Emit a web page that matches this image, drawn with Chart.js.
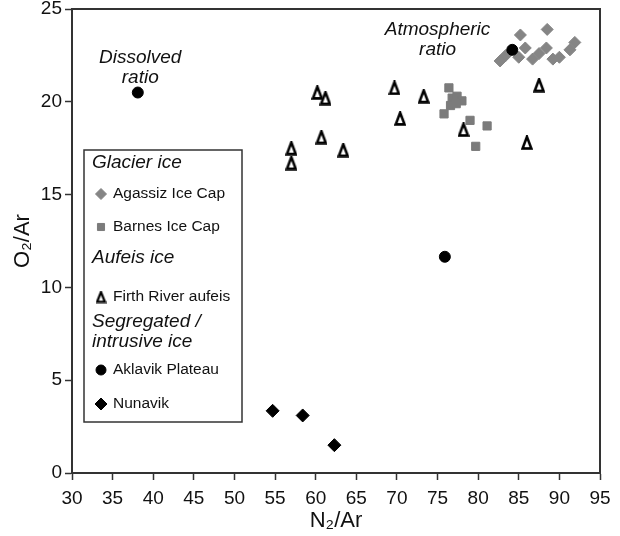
<!DOCTYPE html>
<html>
<head>
<meta charset="utf-8">
<script src="https://cdn.jsdelivr.net/npm/chart.js@4.4.0/dist/chart.umd.min.js"></script>
<style>
  html, body { margin: 0; padding: 0; background: #fff; }
  #wrap { width: 620px; height: 536px; }
</style>
</head>
<body>
<div id="wrap"><canvas id="o2chart" width="620" height="536"></canvas></div>
<script>
// valores (N2/Ar no x, O2/Ar no y)
const agassizN = [82.7, 83.4, 85.2, 85.0, 85.8, 86.7, 87.5, 88.5, 88.4, 89.2, 90.0, 91.3, 91.9];
const agassizO = [22.2, 22.5, 23.6, 22.4, 22.9, 22.3, 22.6, 23.9, 22.9, 22.3, 22.4, 22.8, 23.2];

const barnesN = [76.4, 76.8, 77.4, 78.0, 76.6, 77.3, 75.8, 79.0, 81.1, 79.7];
const barnesO = [20.75, 20.2, 20.3, 20.05, 19.8, 19.9, 19.35, 19.0, 18.7, 17.6];

const firthN = [60.2, 61.2, 60.7, 57.0, 57.0, 63.4, 69.7, 70.4, 73.3, 78.2, 87.5, 86.0];
const firthO = [20.5, 20.2, 18.1, 17.5, 16.7, 17.4, 20.75, 19.1, 20.3, 18.5, 20.9, 17.8];

const aklavikN = [38.1, 84.2, 75.9];
const aklavikO = [20.5, 22.8, 11.65];

const nunavikN = [54.7, 58.4, 62.3];
const nunavikO = [3.35, 3.1, 1.5];

const xTickValues = [30, 35, 40, 45, 50, 55, 60, 65, 70, 75, 80, 85, 90, 95];
const yTickValues = [0, 5, 10, 15, 20, 25];

const seriesNames = ['Agassiz Ice Cap', 'Barnes Ice Cap', 'Firth River aufeis', 'Aklavik Plateau', 'Nunavik'];
const groupNames = ['Glacier ice', 'Aufeis ice', 'Segregated /', 'intrusive ice'];
const noteLines = [['Dissolved', 'ratio'], ['Atmospheric', 'ratio']];
const noteAnchorN = [38.4, 75.0];
const noteAnchorO = [22.4, 23.9];

const FONT = "'Liberation Sans', Arial, Helvetica, sans-serif";
const INK = '#111';

function pairs(xs, ys) {
    return xs.map((x, i) => ({ x: x, y: ys[i] }));
}

// triângulo vazado (contorno preto grosso)
function makeTriangle(w, h, lw) {
    const c = document.createElement('canvas');
    c.width = w;
    c.height = h;
    const g = c.getContext('2d');
    g.beginPath();
    g.moveTo(w / 2, 1.6);
    g.lineTo(w - 1.6, h - 1.6);
    g.lineTo(1.6, h - 1.6);
    g.closePath();
    g.fillStyle = '#fff';
    g.fill();
    g.lineWidth = lw;
    g.strokeStyle = '#000';
    g.lineJoin = 'miter';
    g.stroke();
    return c;
}
const triMark = makeTriangle(12, 15, 2.6);
const triLegend = makeTriangle(11, 13, 2.3);

// moldura de cima e da direita
const framePlugin = {
    id: 'frame',
    beforeDatasetsDraw(chart) {
        const { ctx, chartArea: a } = chart;
        ctx.save();
        ctx.strokeStyle = '#333';
        ctx.lineWidth = 2;
        ctx.beginPath();
        ctx.moveTo(a.left, a.top);
        ctx.lineTo(a.right, a.top);
        ctx.lineTo(a.right, a.bottom);
        ctx.stroke();
        ctx.restore();
    }
};

// textos "Dissolved ratio" / "Atmospheric ratio"
const notesPlugin = {
    id: 'notes',
    afterDatasetsDraw(chart) {
        const { ctx, scales } = chart;
        ctx.save();
        ctx.fillStyle = INK;
        ctx.font = 'italic 19px ' + FONT;
        ctx.textAlign = 'center';
        ctx.textBaseline = 'middle';
        noteLines.forEach((lines, i) => {
            const px = scales.x.getPixelForValue(noteAnchorN[i]);
            const py = scales.y.getPixelForValue(noteAnchorO[i]);
            lines.forEach((t, j) => ctx.fillText(t, px, py + j * 20));
        });
        ctx.restore();
    }
};

// legenda agrupada dentro da área do gráfico
const legendPlugin = {
    id: 'groupLegend',
    afterDraw(chart) {
        const { ctx, chartArea: a } = chart;
        const bx = a.left + 12, by = a.top + 141, bw = 158, bh = 272;
        ctx.save();
        ctx.fillStyle = '#fff';
        ctx.fillRect(bx, by, bw, bh);
        ctx.strokeStyle = '#333';
        ctx.lineWidth = 1.5;
        ctx.strokeRect(bx, by, bw, bh);

        ctx.textBaseline = 'middle';
        ctx.textAlign = 'left';
        ctx.fillStyle = INK;
        ctx.font = 'italic 19px ' + FONT;
        const heads = [13, 108, 172, 192];
        groupNames.forEach((t, i) => ctx.fillText(t, bx + 8, by + heads[i]));

        const rows = [44, 77, 147, 220, 254];
        const ds = chart.data.datasets;
        ctx.font = '15.5px ' + FONT;
        seriesNames.forEach((t, i) => {
            const d = ds[i];
            const mx = bx + 17, my = by + rows[i];
            ctx.fillStyle = d.backgroundColor;
            ctx.strokeStyle = d.borderColor;
            ctx.lineWidth = 1;
            const style = i === 2 ? triLegend : d.pointStyle;
            Chart.helpers.drawPoint(ctx, {
                pointStyle: style,
                radius: d.legendRadius,
                rotation: 0,
                borderWidth: 1
            }, mx, my);
            ctx.fillStyle = INK;
            ctx.fillText(t, bx + 29, my);
        });
        ctx.restore();
    }
};

const ctx = document.getElementById('o2chart');

new Chart(ctx, {
    type: 'scatter',
    data: {
        datasets: [
            {
                label: seriesNames[0],
                data: pairs(agassizN, agassizO),
                pointStyle: 'rectRot',
                pointRadius: 6,
                legendRadius: 5.5,
                backgroundColor: '#858585',
                borderColor: '#858585',
                borderWidth: 1,
                order: 3
            },
            {
                label: seriesNames[1],
                data: pairs(barnesN, barnesO),
                pointStyle: 'rect',
                pointRadius: 5.8,
                legendRadius: 5,
                backgroundColor: '#7b7b7b',
                borderColor: '#7b7b7b',
                borderWidth: 1,
                order: 2
            },
            {
                label: seriesNames[2],
                data: pairs(firthN, firthO),
                pointStyle: triMark,
                pointRadius: 6,
                legendRadius: 5,
                backgroundColor: '#fff',
                borderColor: '#000',
                borderWidth: 0,
                order: 1
            },
            {
                label: seriesNames[3],
                data: pairs(aklavikN, aklavikO),
                pointStyle: 'circle',
                pointRadius: 5.5,
                legendRadius: 5,
                backgroundColor: '#000',
                borderColor: '#000',
                borderWidth: 1,
                order: 0
            },
            {
                label: seriesNames[4],
                data: pairs(nunavikN, nunavikO),
                pointStyle: 'rectRot',
                pointRadius: 6.5,
                legendRadius: 6,
                backgroundColor: '#000',
                borderColor: '#000',
                borderWidth: 1,
                order: 0
            }
        ]
    },
    options: {
        responsive: false,
        animation: false,
        devicePixelRatio: 1,
        events: [],
        layout: { padding: { top: 9, right: 20, left: 0, bottom: 0 } },
        plugins: {
            legend: { display: false },
            tooltip: { enabled: false }
        },
        scales: {
            x: {
                type: 'linear',
                position: 'bottom',
                min: 30,
                max: 95,
                afterBuildTicks: s => { s.ticks = xTickValues.map(v => ({ value: v })); },
                afterFit: s => { s.height = 63; s.paddingLeft = 0; s.paddingRight = 0; },
                grid: { display: true, drawOnChartArea: false, drawTicks: true, tickLength: 7, tickColor: '#333', tickWidth: 1.5 },
                border: { display: true, color: '#333', width: 2 },
                ticks: { color: INK, font: { family: FONT, size: 19 }, padding: 7, maxRotation: 0, autoSkip: false },
                title: { display: true, text: 'N₂/Ar', color: INK, font: { family: FONT, size: 22 }, padding: { top: 0, bottom: 2 } }
            },
            y: {
                type: 'linear',
                position: 'left',
                min: 0,
                max: 25,
                afterBuildTicks: s => { s.ticks = yTickValues.map(v => ({ value: v })); },
                afterFit: s => { s.width = 72; s.paddingTop = 0; s.paddingBottom = 0; },
                grid: { display: true, drawOnChartArea: false, drawTicks: true, tickLength: 7, tickColor: '#333', tickWidth: 1.5 },
                border: { display: true, color: '#333', width: 2 },
                ticks: { color: INK, font: { family: FONT, size: 19 }, padding: 3, autoSkip: false },
                title: { display: true, text: 'O₂/Ar', color: INK, font: { family: FONT, size: 22 }, padding: { top: 10, bottom: 0 } }
            }
        }
    },
    plugins: [framePlugin, notesPlugin, legendPlugin]
});
</script>
</body>
</html>
